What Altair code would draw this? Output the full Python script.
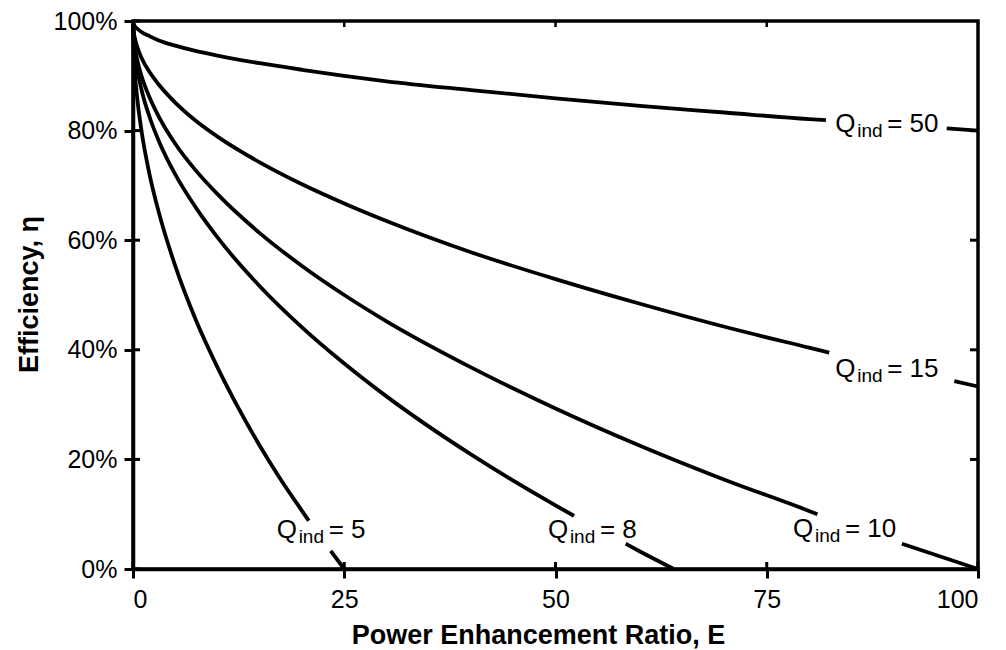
import altair as alt
import pandas as pd

# ---- data ----
Q_values = [5, 8, 10, 15, 50]

E_q5 = [0, 0.1, 0.25, 0.5, 1, 2, 3, 5, 7.5, 10, 12.5, 15, 17.5, 20, 20.8, 23.4, 25]
eta_q5 = [1, .937, .9, .859, .8, .717, .654, .553, .452, .368, .293, .225, .163, .106, .088, .033, 0]

E_q8 = [0, .1, .25, .5, 1, 2, 3, 5, 7.5, 10, 15, 20, 25, 30, 40, 50, 52.2, 58.3, 60, 64]
eta_q8 = [1, .96, .938, .912, .875, .823, .783, .72, .658, .605, .516, .441, .375, .315, .209, .116, .097, .046, .032, 0]

E_q10 = [0, .1, .25, .5, 1, 2, 3, 5, 7.5, 10, 15, 20, 25, 30, 40, 50, 60, 70, 80, 81, 91, 100]
eta_q10 = [1, .968, .95, .929, .9, .859, .827, .776, .726, .684, .613, .553, .5, .452, .368, .293, .225, .163, .106, .1, .046, 0]

E_q15 = [0, .1, .25, .5, 1, 2, 3, 5, 7.5, 10, 15, 20, 25, 30, 40, 50, 60, 70, 80, 82.4, 97.2, 100]
eta_q15 = [1, .979, .967, .953, .933, .906, .885, .851, .817, .789, .742, .702, .667, .635, .578, .529, .484, .442, .404, .395, .343, .333]

E_q50 = [0, .1, .25, .5, 1, 2, 3, 5, 7.5, 10, 15, 20, 25, 30, 40, 50, 60, 70, 80, 82, 96.3, 100]
eta_q50 = [1, .994, .99, .986, .98, .972, .965, .955, .945, .937, .923, .911, .9, .89, .874, .859, .845, .833, .821, .819, .804, .8]

# where each curve is interrupted by its label
gap_start = [20.8, 52.2, 81, 82.4, 82]
gap_end = [23.4, 58.3, 91, 97.2, 96.3]

# label anchors (left edge of "Q", text baseline)
label_E = [17.0, 49.1, 78.1, 83.1, 83.1]
label_eta = [0.056, 0.056, 0.059, 0.351, 0.798]

x_ticks = [0, 25, 50, 75, 100]
y_ticks = [0, 0.2, 0.4, 0.6, 0.8, 1.0]
top_ticks = [25, 50, 75]
right_ticks = [0.2, 0.4, 0.6, 0.8]

# ---- build tables ----
curves = [(E_q5, eta_q5), (E_q8, eta_q8), (E_q10, eta_q10), (E_q15, eta_q15), (E_q50, eta_q50)]
rows = []
for q, (Es, etas), gs, ge in zip(Q_values, curves, gap_start, gap_end):
    for e, v in zip(Es, etas):
        if e <= gs:
            seg = 0
        elif e >= ge:
            seg = 1
        else:
            continue
        rows.append({"E": e, "eta": v, "curve": f"Q{q}-{seg}"})
df = pd.DataFrame(rows)

labels = pd.DataFrame({
    "E": label_E,
    "eta": label_eta,
    "rest": [f"= {q}" for q in Q_values],
})

FONT = "Liberation Sans"
W, H = 845, 548

xscale = alt.Scale(domain=[0, 100], nice=False, zero=False)
yscale = alt.Scale(domain=[0, 1], nice=False)

X = alt.X("E:Q", scale=xscale, axis=alt.Axis(
    values=x_ticks, title="Power Enhancement Ratio, E", format="d",
    titleX=405, titleY=74, titleBaseline="alphabetic", titleAlign="center",
))
Y = alt.Y("eta:Q", scale=yscale, axis=alt.Axis(
    values=y_ticks, format=".0%", title="Efficiency, η",
    titleX=-96, titleY=273, titleBaseline="alphabetic", titleAlign="center",
))

lines = alt.Chart(df).mark_line(
    color="black", strokeWidth=3.8, interpolate="monotone"
).encode(x=X, y=Y, detail="curve:N", order="E:Q")

q_text = alt.Chart(labels).mark_text(
    text="Q", font=FONT, fontSize=26, align="left", baseline="alphabetic", color="black"
).encode(x=X, y=Y)
ind_text = alt.Chart(labels).mark_text(
    text="ind", font=FONT, fontSize=19, align="left", baseline="alphabetic",
    dx=22, dy=5, color="black"
).encode(x=X, y=Y)
rest_text = alt.Chart(labels).mark_text(
    font=FONT, fontSize=26, align="left", baseline="alphabetic", dx=52, color="black"
).encode(x=X, y=Y, text="rest:N")

# inward tick marks on all four sides
left_in = alt.Chart(pd.DataFrame({"eta": y_ticks})).mark_rule(color="black", strokeWidth=3).encode(
    y=Y, x=alt.value(0), x2=alt.value(7))
bottom_in = alt.Chart(pd.DataFrame({"E": x_ticks})).mark_rule(color="black", strokeWidth=3).encode(
    x=X, y=alt.value(H), y2=alt.value(H - 7))
right_in = alt.Chart(pd.DataFrame({"eta": right_ticks})).mark_rule(color="black", strokeWidth=3).encode(
    y=Y, x=alt.value(W), x2=alt.value(W - 8))
top_in = alt.Chart(pd.DataFrame({"E": top_ticks})).mark_rule(color="black", strokeWidth=2.5).encode(
    x=X, y=alt.value(0), y2=alt.value(6))

chart = alt.layer(
    lines, left_in, bottom_in, right_in, top_in, q_text, ind_text, rest_text
).properties(
    width=W, height=H,
    autosize=alt.AutoSizeParams(type="none"),
    padding={"left": 133, "top": 21, "right": 28, "bottom": 81},
    background="white",
).configure_view(
    stroke="black", strokeWidth=3.5
).configure_axis(
    grid=False,
    domainColor="black", domainWidth=3.5,
    tickColor="black", tickWidth=3, tickSize=9,
    labelFont=FONT, labelFontSize=25, labelColor="black", labelPadding=7,
    titleFont=FONT, titleFontSize=27, titleFontWeight="bold", titleColor="black",
).configure_axisX(labelPadding=9)

chart.save("out.html", embed_options={"renderer": "svg", "actions": False})
